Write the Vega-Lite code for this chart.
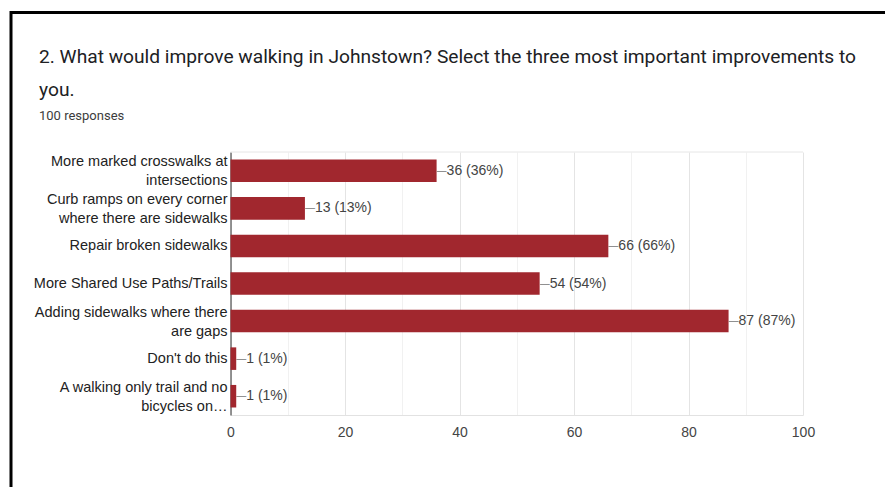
{
  "$schema": "https://vega.github.io/schema/vega-lite/v6.json",
  "width": 879,
  "height": 542,
  "autosize": {"type": "none"},
  "padding": {"left": 11, "top": 12.5, "right": -5, "bottom": -67.5},
  "background": "white",
  "config": {
    "view": {"stroke": "#000000", "strokeWidth": 3, "fill": "white"},
    "font": "Liberation Sans"
  },
  "title": {
    "text": ["2. What would improve walking in Johnstown? Select the three most important improvements to", "you."],
    "subtitle": "100 responses",
    "anchor": "start",
    "frame": "group",
    "orient": "top",
    "offset": -110,
    "dx": 28,
    "font": "Roboto",
    "fontSize": 19.2,
    "fontWeight": "normal",
    "color": "#202124",
    "lineHeight": 33,
    "subtitleFont": "Roboto",
    "subtitleFontSize": 13,
    "subtitleColor": "#3c3c3c",
    "subtitlePadding": 9
  },
  "data": {
    "values": [
      {"option": "More marked crosswalks at intersections", "line1": "More marked crosswalks at", "line2": "intersections", "count": 36, "label": "36 (36%)"},
      {"option": "Curb ramps on every corner where there are sidewalks", "line1": "Curb ramps on every corner", "line2": "where there are sidewalks", "count": 13, "label": "13 (13%)"},
      {"option": "Repair broken sidewalks", "line1": "Repair broken sidewalks", "line2": "", "count": 66, "label": "66 (66%)"},
      {"option": "More Shared Use Paths/Trails", "line1": "More Shared Use Paths/Trails", "line2": "", "count": 54, "label": "54 (54%)"},
      {"option": "Adding sidewalks where there are gaps", "line1": "Adding sidewalks where there", "line2": "are gaps", "count": 87, "label": "87 (87%)"},
      {"option": "Don't do this", "line1": "Don't do this", "line2": "", "count": 1, "label": "1 (1%)"},
      {"option": "A walking only trail and no bicycles on…", "line1": "A walking only trail and no", "line2": "bicycles on…", "count": 1, "label": "1 (1%)"}
    ]
  },
  "encoding": {
    "y": {
      "field": "option",
      "type": "nominal",
      "sort": null,
      "scale": {"range": [139.5, 402.5], "paddingInner": 0.4, "paddingOuter": 0.2},
      "axis": {
        "orient": "left",
        "offset": -219.5,
        "title": null,
        "ticks": false,
        "tickSize": 0,
        "grid": false,
        "labels": false,
        "domainColor": "#707070",
        "domainWidth": 1.5
      }
    },
    "x": {
      "field": "count",
      "type": "quantitative",
      "scale": {"domain": [0, 100], "range": [219.5, 792], "nice": false},
      "axis": {
        "orient": "bottom",
        "offset": -139.5,
        "title": null,
        "values": [0, 10, 20, 30, 40, 50, 60, 70, 80, 90, 100],
        "labelExpr": "datum.value % 20 === 0 ? datum.label : ''",
        "ticks": false,
        "tickSize": 0,
        "labelPadding": 10,
        "labelFont": "Liberation Sans",
        "labelFontSize": 14,
        "labelColor": "#444444",
        "labelFlush": false,
        "labelOverlap": false,
        "domainColor": "#e2e2e2",
        "grid": true,
        "gridColor": {"condition": {"test": "datum.value % 20 === 0", "value": "#e4e4e4"}, "value": "#f1f1f1"}
      }
    }
  },
  "layer": [
    {
      "mark": {"type": "rule", "color": "#e6e6e6", "strokeWidth": 1},
      "transform": [{"filter": "datum.option === 'More marked crosswalks at intersections'"}],
      "encoding": {
        "x": {"datum": 0},
        "x2": {"datum": 100},
        "y": {"field": "option", "type": "nominal", "bandPosition": -0.333}
      }
    },
    {"mark": {"type": "bar", "color": "#a1272e"}},
    {
      "mark": {"type": "text", "align": "left", "baseline": "middle", "dx": 0, "fontSize": 10, "color": "#777777"},
      "encoding": {"text": {"value": "—"}}
    },
    {
      "mark": {"type": "text", "align": "left", "baseline": "middle", "dx": 10, "fontSize": 14, "color": "#444444"},
      "encoding": {"text": {"field": "label"}}
    },
    {
      "transform": [{"filter": "datum.line2 === ''"}],
      "mark": {"type": "text", "align": "right", "baseline": "middle", "dx": -3, "fontSize": 14.5, "color": "#222222"},
      "encoding": {
        "x": {"datum": 0},
        "y": {"field": "option", "type": "nominal", "bandPosition": 0.5},
        "text": {"field": "line1"}
      }
    },
    {
      "transform": [{"filter": "datum.line2 !== ''"}],
      "mark": {"type": "text", "align": "right", "baseline": "middle", "dx": -3, "fontSize": 14.5, "color": "#222222"},
      "encoding": {
        "x": {"datum": 0},
        "y": {"field": "option", "type": "nominal", "bandPosition": 0.123},
        "text": {"field": "line1"}
      }
    },
    {
      "transform": [{"filter": "datum.line2 !== ''"}],
      "mark": {"type": "text", "align": "right", "baseline": "middle", "dx": -3, "fontSize": 14.5, "color": "#222222"},
      "encoding": {
        "x": {"datum": 0},
        "y": {"field": "option", "type": "nominal", "bandPosition": 0.966},
        "text": {"field": "line2"}
      }
    }
  ]
}
